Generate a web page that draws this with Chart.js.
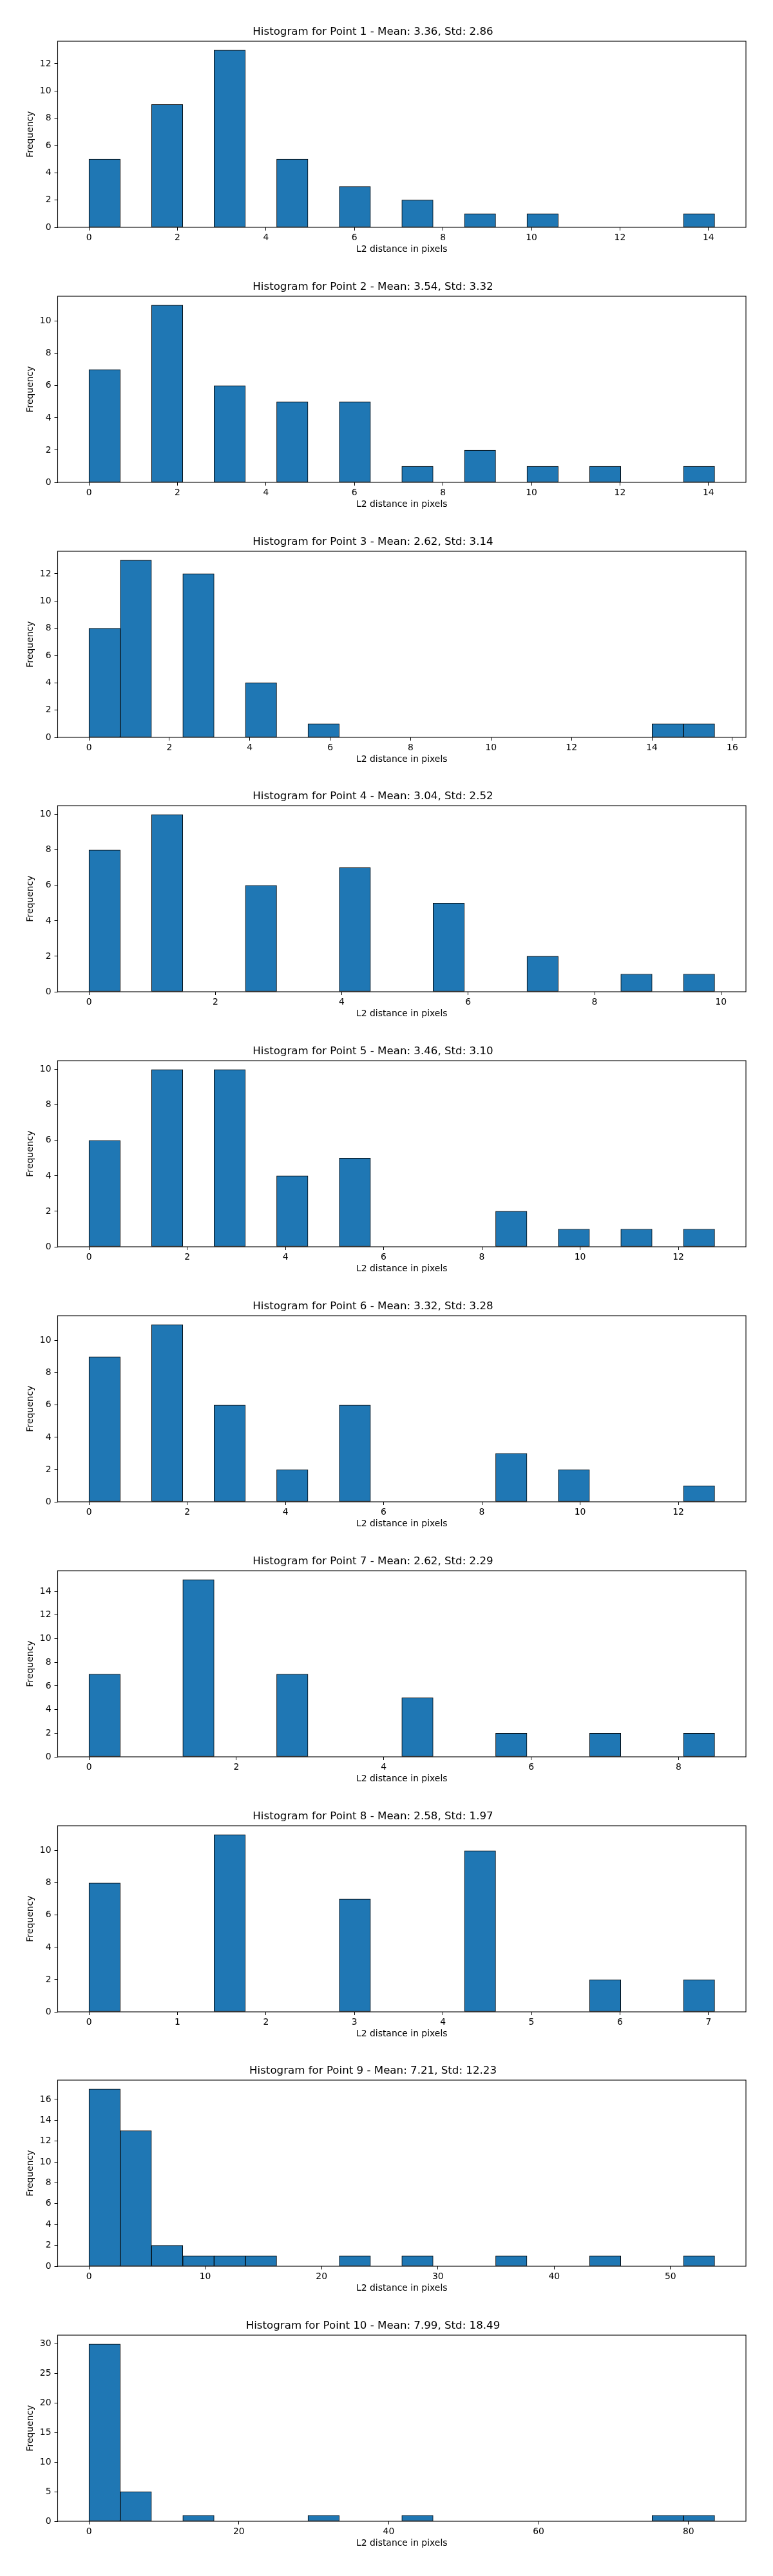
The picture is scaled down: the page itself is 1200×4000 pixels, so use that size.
<!DOCTYPE html>
<html>
<head>
<meta charset="utf-8">
<title>L2 distance histograms</title>
<script src="https://cdn.jsdelivr.net/npm/chart.js@4.4.0/dist/chart.umd.min.js"></script>
<style>
  body { margin: 0; background: #fff; }
  #charts { position: relative; width: 1200px; height: 4000px; }
  .panel { position: absolute; left: 0; width: 1200px; height: 396px; }
</style>
</head>
<body>
<div id="charts"></div>
<script>
// ==========================
// DATA: counts in 20 equal bins from 0 to the max distance
// ==========================
const point1Counts = [5, 0, 9, 0, 13, 0, 5, 0, 3, 0, 2, 0, 1, 0, 1, 0, 0, 0, 0, 1];
const point2Counts = [7, 0, 11, 0, 6, 0, 5, 0, 5, 0, 1, 0, 2, 0, 1, 0, 1, 0, 0, 1];
const point3Counts = [8, 13, 0, 12, 0, 4, 0, 1, 0, 0, 0, 0, 0, 0, 0, 0, 0, 0, 1, 1];
const point4Counts = [8, 0, 10, 0, 0, 6, 0, 0, 7, 0, 0, 5, 0, 0, 2, 0, 0, 1, 0, 1];
const point5Counts = [6, 0, 10, 0, 10, 0, 4, 0, 5, 0, 0, 0, 0, 2, 0, 1, 0, 1, 0, 1];
const point6Counts = [9, 0, 11, 0, 6, 0, 2, 0, 6, 0, 0, 0, 0, 3, 0, 2, 0, 0, 0, 1];
const point7Counts = [7, 0, 0, 15, 0, 0, 7, 0, 0, 0, 5, 0, 0, 2, 0, 0, 2, 0, 0, 2];
const point8Counts = [8, 0, 0, 0, 11, 0, 0, 0, 7, 0, 0, 0, 10, 0, 0, 0, 2, 0, 0, 2];
const point9Counts = [17, 13, 2, 1, 1, 1, 0, 0, 1, 0, 1, 0, 0, 1, 0, 0, 1, 0, 0, 1];
const point10Counts = [30, 5, 0, 1, 0, 0, 0, 1, 0, 0, 1, 0, 0, 0, 0, 0, 0, 0, 1, 1];

const maxDistances = [14.14, 14.14, 15.56, 9.9, 12.74, 12.74, 8.49, 7.07, 53.8, 83.5];
const means = [3.36, 3.54, 2.62, 3.04, 3.46, 3.32, 2.62, 2.58, 7.21, 7.99];
const stds = [2.86, 3.32, 3.14, 2.52, 3.1, 3.28, 2.29, 1.97, 12.23, 18.49];
const xTickSteps = [2, 2, 2, 2, 2, 2, 2, 1, 10, 20];
const yTickSteps = [2, 2, 2, 2, 2, 2, 2, 2, 2, 5];

const countsByPoint = [
  point1Counts, point2Counts, point3Counts, point4Counts, point5Counts,
  point6Counts, point7Counts, point8Counts, point9Counts, point10Counts,
];
const BINS = 20;

Chart.defaults.font.family = "'DejaVu Sans', sans-serif";
Chart.defaults.color = "#000";

// black box round the plot area, like matplotlib spines
const framePlugin = {
  id: "frame",
  afterDatasetsDraw(chart) {
    const { ctx, chartArea: a } = chart;
    ctx.save();
    ctx.strokeStyle = "#000";
    ctx.lineWidth = 1.1;
    ctx.strokeRect(a.left, a.top, a.right - a.left, a.bottom - a.top);
    ctx.restore();
  },
};

// ==========================
// BUILD ONE HISTOGRAM PER POINT
// ==========================
const holder = document.getElementById("charts");

countsByPoint.forEach((counts, i) => {
  const hi = maxDistances[i];
  const binWidth = hi / BINS;
  const bars = counts.map((c, k) => ({ x: (k + 0.5) * binWidth, y: c }));

  const panel = document.createElement("div");
  panel.className = "panel";
  panel.style.top = Math.round(i * 395.8) + "px";
  const canvas = document.createElement("canvas");
  panel.appendChild(canvas);
  holder.appendChild(panel);

  const tickFont = { size: 13.9 };
  const tickGrid = { drawOnChartArea: false, color: "#000", lineWidth: 1, tickLength: 5, offset: false };

  new Chart(canvas, {
    type: "bar",
    data: {
      datasets: [
        {
          data: bars,
          backgroundColor: "#1f77b4",
          borderColor: "#000",
          borderWidth: 1,
          borderSkipped: false,
          barPercentage: 1,
          categoryPercentage: 1,
        },
      ],
    },
    options: {
      responsive: true,
      maintainAspectRatio: false,
      animation: false,
      layout: { padding: { left: 0, right: 42, top: 0, bottom: 0 } },
      plugins: {
        legend: { display: false },
        tooltip: { enabled: false },
        title: {
          display: true,
          text: `Histogram for Point ${i + 1} - Mean: ${means[i].toFixed(2)}, Std: ${stds[i].toFixed(2)}`,
          font: { size: 16.67, weight: "normal" },
          color: "#000",
          padding: { top: 40, bottom: 4 },
        },
      },
      scales: {
        x: {
          type: "linear",
          min: -0.05 * hi,
          max: 1.05 * hi,
          offset: false,
          grid: tickGrid,
          border: { display: false },
          ticks: { stepSize: xTickSteps[i], includeBounds: false, padding: 3, maxRotation: 0, font: tickFont },
          title: {
            display: true,
            text: "L2 distance in pixels",
            font: tickFont,
            padding: { top: 0, bottom: 0 },
          },
          afterFit: (s) => { s.height = 43; },
        },
        y: {
          min: 0,
          max: Math.max(...counts) * 1.05,
          grid: tickGrid,
          border: { display: false },
          ticks: { stepSize: yTickSteps[i], includeBounds: false, padding: 5, font: tickFont },
          title: {
            display: true,
            text: "Frequency",
            font: tickFont,
            padding: { top: 38.7, bottom: 0 },
          },
          afterFit: (s) => { s.width = 89.5; },
        },
      },
    },
    plugins: [framePlugin],
  });
});
</script>
</body>
</html>
